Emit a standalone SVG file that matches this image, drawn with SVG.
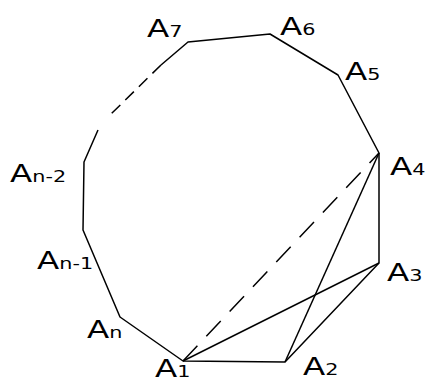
<svg xmlns="http://www.w3.org/2000/svg" width="425" height="384" viewBox="0 0 425 384">
<style>
.e{fill:none;stroke:#000;stroke-width:1.5;stroke-linejoin:round}
.d{stroke-dasharray:12 7}
.dd{stroke-dasharray:21 13}
.l{font-family:"DejaVu Sans",Verdana,sans-serif;font-size:25px;fill:#000}
.s{font-size:16px}
</style>
<rect width="425" height="384" fill="#fff"/>
<g id="connectors">
<polyline class="e" points="161,65 188,42 270,34 338,75 379,153 379,263 285,362 183,361 120,317 83,230 84,162 98,130"/>
<line class="e d" x1="161" y1="65" x2="108" y2="117"/>
<line class="e" x1="183" y1="361" x2="379" y2="263"/>
<line class="e" x1="285" y1="362" x2="379" y2="153"/>
<line class="e dd" x1="183" y1="361" x2="379" y2="153"/>
</g>
<g id="A7"><text class="l" transform="translate(147,37) scale(1.3,1)">A<tspan class="s">7</tspan></text></g>
<g id="A6"><text class="l" transform="translate(280,35) scale(1.3,1)">A<tspan class="s">6</tspan></text></g>
<g id="A5"><text class="l" transform="translate(345,80) scale(1.3,1)">A<tspan class="s">5</tspan></text></g>
<g id="A4"><text class="l" transform="translate(390,175) scale(1.3,1)">A<tspan class="s">4</tspan></text></g>
<g id="A3"><text class="l" transform="translate(387,281) scale(1.3,1)">A<tspan class="s">3</tspan></text></g>
<g id="A2"><text class="l" transform="translate(303,375) scale(1.3,1)">A<tspan class="s">2</tspan></text></g>
<g id="A1"><text class="l" transform="translate(155,377) scale(1.3,1)">A<tspan class="s">1</tspan></text></g>
<g id="An"><text class="l" transform="translate(87,338) scale(1.3,1)">A<tspan class="s">n</tspan></text></g>
<g id="An-1"><text class="l" transform="translate(37,269) scale(1.3,1)">A<tspan class="s">n-1</tspan></text></g>
<g id="An-2"><text class="l" transform="translate(10,182) scale(1.3,1)">A<tspan class="s">n-2</tspan></text></g>
</svg>
